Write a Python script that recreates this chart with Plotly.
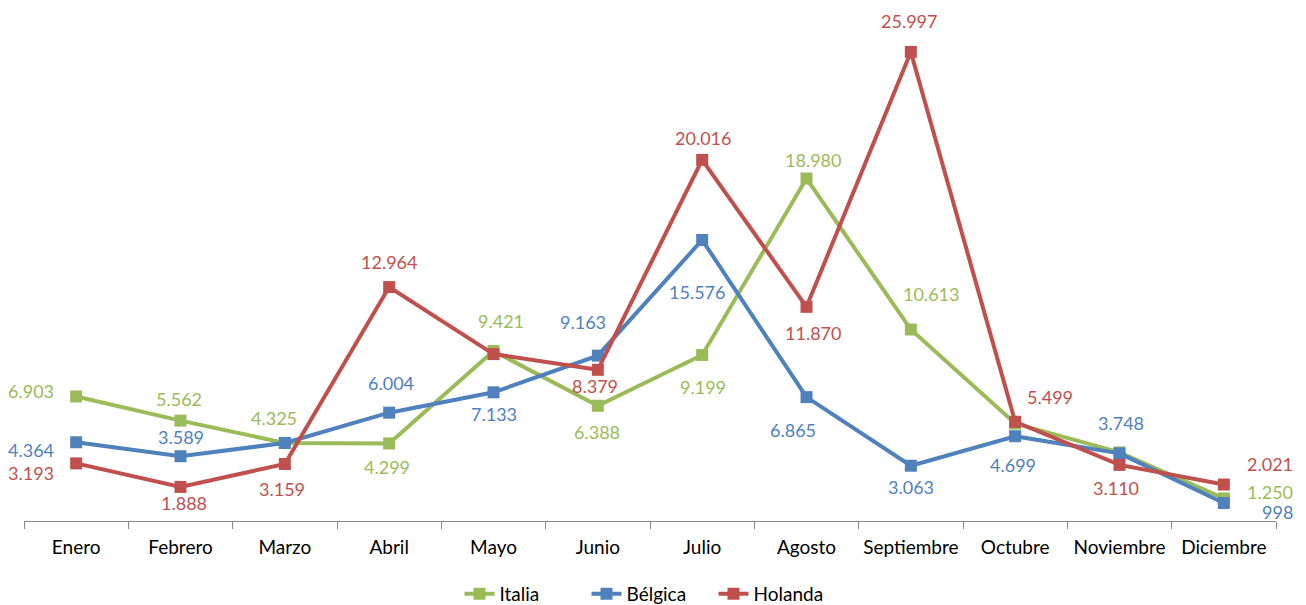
import plotly.graph_objects as go

months = ["Enero", "Febrero", "Marzo", "Abril", "Mayo", "Junio", "Julio",
          "Agosto", "Septiembre", "Octubre", "Noviembre", "Diciembre"]
italia = [6903, 5562, 4325, 4299, 9421, 6388, 9199, 18980, 10613, 5400, 3800, 1250]
belgica = [4364, 3589, 4325, 6004, 7133, 9163, 15576, 6865, 3063, 4699, 3748, 998]
holanda = [3193, 1888, 3159, 12964, 9250, 8379, 20016, 11870, 25997, 5499, 3110, 2021]

# which points carry a visible data label
italia_show = [1, 1, 1, 1, 1, 1, 1, 1, 1, 0, 0, 1]
belgica_show = [1, 1, 0, 1, 1, 1, 1, 1, 1, 1, 1, 1]
holanda_show = [1, 1, 1, 1, 0, 1, 1, 1, 1, 1, 1, 1]

# label offsets in pixels (dx right, dy down)
italia_off = [(-45, -5), (-2, -22), (-11, -25), (-2, 24), (7, -30), (-1, 26), (1, 32),
              (6, -19), (20, -36), (0, 0), (0, 0), (46, -6)]
belgica_off = [(-45, 8), (0, -19), (0, 0), (2, -30), (0, 22), (-15, -34), (-5, 52),
               (-14, 33), (0, 21), (-2, 29), (1, -30), (54, 9)]
holanda_off = [(-45, 10), (3, 16), (-3, 25), (0, -25), (0, 0), (-3, 16), (1, -22),
               (6, 26), (-2, -31), (35, -25), (-4, 23), (46, -21)]

series = [
    ("Italia", italia, italia_show, italia_off, "#9BBB59"),
    ("Bélgica", belgica, belgica_show, belgica_off, "#4F81BD"),
    ("Holanda", holanda, holanda_show, holanda_off, "#C0504D"),
]

FONT = "Lato, Open Sans, Liberation Sans, sans-serif"

def fmt(v):
    return f"{v:,}".replace(",", ".")

fig = go.Figure()
annotations = []
for name, vals, show, offs, color in series:
    fig.add_trace(go.Scatter(
        x=months, y=vals, name=name, mode="lines+markers",
        line=dict(color=color, width=4),
        marker=dict(symbol="square", size=12, color=color),
        cliponaxis=False,
    ))
    for m, v, s, (dx, dy) in zip(months, vals, show, offs):
        if s:
            annotations.append(dict(
                x=m, y=v, xref="x", yref="y", text=fmt(v), showarrow=False,
                xanchor="center", yanchor="middle", xshift=dx, yshift=-dy,
                font=dict(family=FONT, size=18, color=color),
            ))

fig.update_layout(
    width=1298, height=597,
    margin=dict(l=16, r=30, t=0, b=84, autoexpand=False),
    paper_bgcolor="white", plot_bgcolor="white",
    showlegend=True,
    legend=dict(orientation="h", x=0.5, xanchor="center", y=-0.142, yanchor="middle",
                font=dict(family=FONT, size=19, color="#000000"),
                entrywidth=82, entrywidthmode="pixels",
                tracegroupgap=0),
    annotations=annotations,
    xaxis=dict(type="category", range=[-0.5, 11.5], showline=True, linecolor="#868686",
               linewidth=1, ticks="outside", tickson="boundaries", ticklen=7,
               tickcolor="#868686", showgrid=False, zeroline=False, tickangle=0,
               tickfont=dict(family=FONT, size=19, color="#000000"),
               ticklabelstandoff=9, automargin=False),
    yaxis=dict(visible=False, range=[0, 28432], showgrid=False, zeroline=False),
)

fig.write_html("out.html")
